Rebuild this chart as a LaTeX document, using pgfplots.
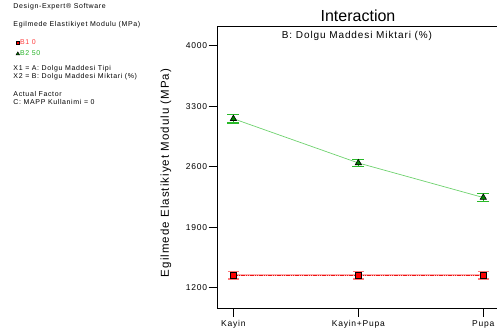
\documentclass[border=0pt]{standalone}
\usepackage{fontspec}
\setmainfont{Liberation Sans}[LetterSpace=9]
\newfontfamily\titlefont{Liberation Sans}
\usepackage{pgfplots}
\pgfplotsset{compat=1.18}

\definecolor{bonered}{RGB}{255,0,0}
\definecolor{boneline}{RGB}{235,20,20}
\definecolor{bonehalo}{RGB}{255,175,175}
\definecolor{bonetext}{RGB}{255,60,60}
\definecolor{bonebar}{RGB}{255,120,120}
\definecolor{btwogreen}{RGB}{0,130,0}
\definecolor{btwotext}{RGB}{40,180,40}
\definecolor{btwobar}{RGB}{40,185,40}
\definecolor{btwoline}{RGB}{110,210,110}

\newcommand{\sz}[1]{\fontsize{#1}{#1}\selectfont}

\pgfplotstableread{
x y e
0 3155 48
1 2643 43
2 2243 44
}\levelbtwo
\pgfplotstableread{
x y e
0 1344 42
1 1344 42
2 1344 42
}\levelbone

\begin{document}
\begin{tikzpicture}[x=1pt,y=1pt]
% the axis sits with its lower left corner at the origin
\path[use as bounding box] (-217.7,-28) rectangle (279.3,308);

% side panel text
\begin{scope}[shift={(-217.7,308)}, every node/.style={anchor=base west, inner sep=0pt, font=\sz{7}}]
\node at (13.3,-9)   {Design-Expert\textregistered{} Software};
\node at (13.3,-27)  {Egilmede Elastikiyet Modulu (MPa)};
\node at (13.3,-70.5) {X1 = A: Dolgu Maddesi Tipi};
\node at (13.3,-79)  {X2 = B: Dolgu Maddesi Miktari (\%)};
\node at (13.3,-96.5) {Actual Factor};
\node at (13.3,-105) {C: MAPP Kullanimi = 0};
% chart title and subtitle
\node[anchor=base, font=\titlefont\sz{16}] at (358,-21.7) {Interaction};
\node[anchor=base, font=\sz{10}] at (357,-38.3) {B: Dolgu Maddesi Miktari (\%)};
\end{scope}

\begin{axis}[
  scale only axis, width=287.3pt, height=282pt,
  xmin=-0.1256, xmax=2.1736, ymin=965, ymax=4228,
  axis line style={line width=0.8pt},
  tick pos=left, tick align=outside,
  major tick length=9pt,
  tick style={line width=0.7pt, black},
  xtick={0,1,2}, xticklabels={Kayin,Kayin+Pupa,Pupa},
  ytick={1200,1900,2600,3300,4000},
  /pgf/number format/assume math mode=true,
  /pgf/number format/1000 sep={},
  ticklabel style={font=\sz{8.5}},
  yticklabel style={inner xsep=1.5pt},
  xticklabel style={inner ysep=3pt},
  ylabel={Egilmede Elastikiyet Modulu (MPa)},
  ylabel style={font=\sz{11.5}, at={(axis description cs:-0.18,0.479)}, anchor=center},
  legend style={draw=none, fill=none, font=\sz{7},
    at={(axis description cs:0,1)}, anchor=north west,
    xshift=-201.8pt, yshift=-13pt,
    inner sep=0pt, row sep=3.6pt,
    nodes={inner sep=0.5pt}},
  legend image code/.code={\draw[#1, only marks] plot coordinates {(0pt,0pt)};},
  legend cell align=left,
  legend style={/tikz/every even column/.append style={column sep=4.5pt}},
]
% legend entries for the two levels of factor B
\addlegendimage{only marks, mark=square*, mark size=1.6pt, mark options={fill=bonered, draw=black, line width=0.5pt}}
\addlegendentry{\textcolor{bonetext}{B1 0}}
\addlegendimage{only marks, mark=triangle*, mark size=2pt, mark options={fill=btwogreen, draw=black, line width=0.5pt}}
\addlegendentry{\textcolor{btwotext}{B2 50}}

% connecting lines
\addplot[draw=btwoline, line width=0.7pt, no marks] table[x=x, y=y] {\levelbtwo};
\addplot[draw=bonehalo, line width=1.6pt, no marks] table[x=x, y=y] {\levelbone};
\addplot[draw=boneline, line width=0.6pt, no marks, dash pattern=on 1.2pt off 0.6pt] table[x=x, y=y] {\levelbone};

% B2 = 50 with confidence bars
\addplot[draw=none, only marks,
  mark=triangle*, mark size=3.6pt,
  mark options={fill=btwogreen, draw=black, line width=0.6pt},
  error bars/.cd, y dir=both, y explicit,
  error bar style={draw=btwobar, line width=0.8pt},
  error mark options={rotate=90, mark size=6pt, draw=btwobar, line width=1.3pt}]
  table[x=x, y=y, y error=e] {\levelbtwo};

% B1 = 0 with confidence bars
\addplot[draw=none, only marks,
  mark=square*, mark size=2.7pt,
  mark options={fill=bonered, draw=black, line width=0.6pt},
  error bars/.cd, y dir=both, y explicit,
  error bar style={draw=bonebar, line width=0.8pt},
  error mark options={rotate=90, mark size=5.5pt, draw=bonebar, line width=1.3pt}]
  table[x=x, y=y, y error=e] {\levelbone};
\end{axis}
\end{tikzpicture}
\end{document}
